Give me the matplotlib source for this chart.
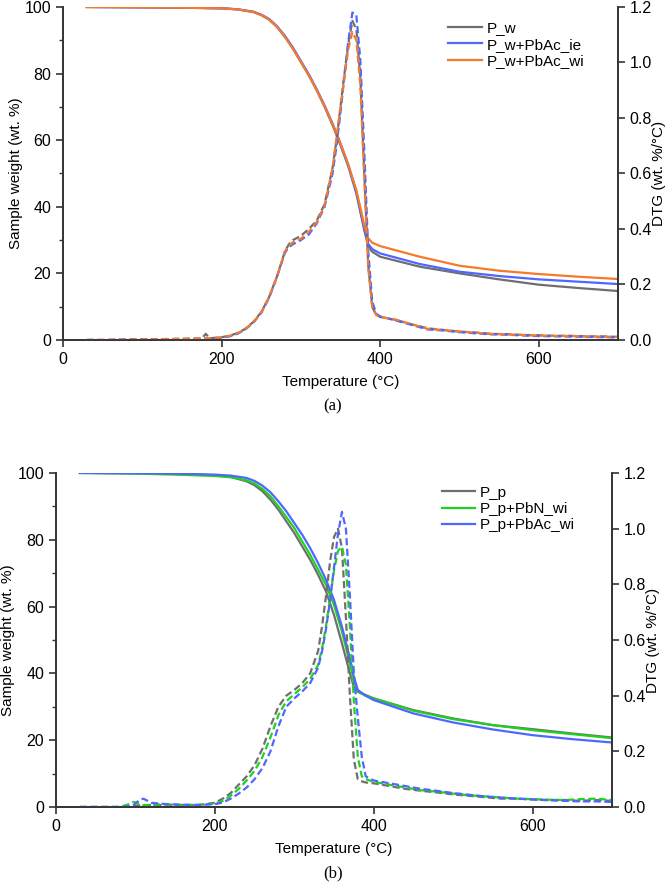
import numpy as np
import matplotlib
matplotlib.use('Agg')
import matplotlib.pyplot as plt
from matplotlib.ticker import MultipleLocator

plt.rcParams['font.family'] = ['Liberation Sans', 'DejaVu Sans']
plt.rcParams['font.size'] = 11

# ---- panel (a) data ----
t_tga_a = [30, 100, 150, 200, 220, 240, 250, 260, 270, 280, 290, 300, 310, 320, 330,
           340, 350, 360, 370, 380, 385, 390, 400, 450, 500, 550, 600, 650, 700]
tga_pw = [100, 99.9, 99.8, 99.6, 99.3, 98.5, 97.6, 96.2, 94, 91, 87.5, 83.5, 79.5, 75, 70,
          64.5, 58.5, 52, 44, 33, 28.2, 26.5, 25, 22, 20, 18.2, 16.6, 15.6, 14.7]
tga_pw_ie = [100, 99.9, 99.8, 99.6, 99.3, 98.6, 97.7, 96.4, 94.2, 91.3, 87.8, 83.8, 79.8, 75.3, 70.4,
             65, 59, 52.5, 44.5, 33.5, 28.8, 27.3, 26, 22.8, 20.5, 19.2, 18.2, 17.5, 16.8]
tga_pw_wi = [100, 99.9, 99.8, 99.6, 99.3, 98.5, 97.6, 96.2, 94, 91, 87.5, 83.5, 79.5, 75, 70.2,
             64.8, 59, 52.5, 45, 34.5, 30.5, 29.2, 28.2, 25, 22.3, 20.8, 19.8, 19, 18.3]

t_dtg_a = [30, 50, 100, 150, 175, 180, 185, 200, 210, 220, 230, 240, 250, 260, 270, 280, 285,
           290, 300, 310, 320, 330, 340, 345, 350, 355, 360, 365, 370, 375, 380, 385, 390, 395,
           400, 420, 440, 460, 480, 500, 520, 540, 560, 580, 600, 620, 640, 660, 680, 700]
dtg_pw = [0, 0, 0.002, 0.004, 0.005, 0.022, 0.006, 0.01, 0.015, 0.025, 0.04, 0.065, 0.1, 0.155,
          0.23, 0.32, 0.345, 0.36, 0.375, 0.40, 0.43, 0.49, 0.62, 0.72, 0.84, 0.96, 1.07, 1.15,
          1.12, 0.95, 0.60, 0.27, 0.12, 0.09, 0.083, 0.072, 0.056, 0.042, 0.036, 0.03, 0.027,
          0.022, 0.021, 0.018, 0.017, 0.015, 0.015, 0.013, 0.013, 0.011]
dtg_pw_ie = [0, 0, 0.002, 0.003, 0.004, 0.005, 0.005, 0.008, 0.013, 0.022, 0.038, 0.062, 0.097,
             0.152, 0.228, 0.315, 0.335, 0.345, 0.36, 0.38, 0.42, 0.48, 0.60, 0.70, 0.82, 0.95,
             1.08, 1.18, 1.17, 1.01, 0.68, 0.32, 0.14, 0.095, 0.085, 0.07, 0.054, 0.038, 0.034,
             0.028, 0.024, 0.02, 0.019, 0.016, 0.014, 0.013, 0.012, 0.011, 0.01, 0.009]
dtg_pw_wi = [0, 0, 0.002, 0.004, 0.005, 0.006, 0.006, 0.01, 0.015, 0.024, 0.04, 0.064, 0.1, 0.155,
             0.23, 0.32, 0.34, 0.352, 0.365, 0.39, 0.425, 0.485, 0.62, 0.73, 0.84, 0.95, 1.05,
             1.11, 1.08, 0.92, 0.58, 0.26, 0.12, 0.09, 0.083, 0.073, 0.057, 0.04, 0.036, 0.031,
             0.026, 0.022, 0.02, 0.018, 0.016, 0.015, 0.014, 0.013, 0.012, 0.011]

# ---- panel (b) data ----
t_tga_b = [30, 100, 150, 200, 220, 240, 250, 260, 270, 280, 290, 300, 310, 320, 330, 340, 350,
           360, 370, 375, 380, 390, 400, 450, 500, 550, 600, 650, 700]
tga_pp = [100, 99.9, 99.7, 99.3, 98.8, 97.5, 96.3, 94.5, 92, 89, 85.5, 82, 78, 74, 69.5, 64.5,
          57.5, 49, 40, 36, 34.5, 33.5, 32.5, 29, 26.5, 24.5, 23.3, 22, 20.8]
tga_pp_n = [100, 99.8, 99.5, 99.1, 98.7, 97.8, 96.8, 95.2, 93, 90, 86.8, 83.5, 79.5, 75.5, 71,
            66.5, 60.5, 52.5, 43, 38, 34.5, 33.3, 32.5, 28.8, 26.3, 24.5, 23, 21.8, 20.6]
tga_pp_ac = [100, 99.9, 99.8, 99.5, 99.2, 98.5, 97.6, 96.2, 94.2, 91.5, 88.5, 85, 81.5, 77.5, 73,
             68, 62, 54, 44.5, 39, 35, 33.3, 32, 28, 25.3, 23.2, 21.5, 20.3, 19.3]

t_dtg_b = [30, 50, 80, 90, 97, 105, 110, 120, 140, 160, 180, 200, 210, 220, 230, 240, 250, 260,
           270, 280, 290, 300, 310, 320, 330, 335, 340, 345, 350, 355, 360, 365, 370, 375, 380,
           385, 390, 400, 420, 440, 460, 480, 500, 520, 540, 560, 580, 600, 620, 640, 660, 680, 700]
dtg_pp = [0, 0, 0, 0.002, 0.004, 0.006, 0.006, 0.007, 0.008, 0.007, 0.007, 0.015, 0.03, 0.05,
          0.08, 0.11, 0.15, 0.21, 0.29, 0.36, 0.40, 0.42, 0.445, 0.48, 0.56, 0.65, 0.76, 0.88,
          0.97, 1.0, 0.93, 0.68, 0.40, 0.17, 0.10, 0.092, 0.088, 0.085, 0.075, 0.065, 0.058,
          0.052, 0.045, 0.04, 0.035, 0.03, 0.03, 0.027, 0.025, 0.025, 0.022, 0.025, 0.022]
dtg_pp_n = [0, 0, 0, 0.008, 0.018, 0.012, 0.006, 0.008, 0.009, 0.007, 0.008, 0.012, 0.022, 0.04,
            0.065, 0.095, 0.13, 0.18, 0.25, 0.33, 0.38, 0.405, 0.43, 0.46, 0.51, 0.57, 0.65, 0.75,
            0.85, 0.92, 0.935, 0.87, 0.65, 0.38, 0.18, 0.11, 0.10, 0.09, 0.08, 0.07, 0.06, 0.055,
            0.048, 0.042, 0.038, 0.034, 0.03, 0.028, 0.026, 0.025, 0.028, 0.03, 0.025]
dtg_pp_ac = [0, 0, 0, 0.002, 0.005, 0.025, 0.03, 0.015, 0.01, 0.008, 0.007, 0.01, 0.016, 0.03,
             0.048, 0.07, 0.10, 0.14, 0.20, 0.29, 0.36, 0.39, 0.415, 0.445, 0.50, 0.56, 0.64, 0.74,
             0.86, 0.98, 1.06, 1.0, 0.76, 0.48, 0.32, 0.18, 0.11, 0.095, 0.085, 0.075, 0.065,
             0.058, 0.05, 0.044, 0.038, 0.034, 0.03, 0.027, 0.024, 0.022, 0.02, 0.02, 0.018]

GRAY = '#6f6f6f'
BLUE = '#4f66ff'
ORANGE = '#f47a2c'
GREEN = '#1ed21e'


def draw_panel(rect, t_tga, tgas, t_dtg, dtgs, colors, names, letter, leg_anchor, lpad):
    ax = fig.add_axes(rect)
    ax2 = ax.twinx()
    for y, c, n in zip(tgas, colors, names):
        ax.plot(t_tga, y, color=c, lw=1.6, label=n)
    for y, c in zip(dtgs, colors):
        ax2.plot(t_dtg, y, color=c, lw=1.6, ls=(0, (3.2, 1.6)))
    ax.set_xlim(0, 700)
    ax.set_ylim(0, 100)
    ax2.set_ylim(0, 1.2)
    ax.xaxis.set_major_locator(MultipleLocator(200))
    ax.yaxis.set_major_locator(MultipleLocator(20))
    ax.yaxis.set_minor_locator(MultipleLocator(10))
    ax2.yaxis.set_major_locator(MultipleLocator(0.2))
    ax2.yaxis.set_major_formatter(matplotlib.ticker.FormatStrFormatter('%.1f'))
    for a in (ax, ax2):
        a.spines['top'].set_visible(False)
        for s in a.spines.values():
            s.set_linewidth(1.2)
            s.set_color('#333333')
        a.tick_params(which='major', direction='out', length=5, width=1.2,
                      labelsize=11.5, color='#333333')
        a.tick_params(which='minor', direction='out', length=3, width=1.0, color='#333333')
    ax.set_xlabel('Temperature (°C)', fontsize=11, labelpad=6)
    ax.set_ylabel('Sample weight (wt. %)', fontsize=11, labelpad=lpad)
    ax2.set_ylabel('DTG (wt. %/°C)', fontsize=11, labelpad=0)
    ax.legend(loc='upper left', bbox_to_anchor=leg_anchor, frameon=False, fontsize=11,
              handlelength=2.2, handletextpad=0.3, labelspacing=0.15, borderaxespad=0)
    fig.text(0.5, rect[1] - 0.075, letter, ha='center', va='center', fontsize=12,
             family=['Liberation Serif', 'DejaVu Serif'])
    return ax


fig = plt.figure(figsize=(6.66, 8.86), dpi=100)

draw_panel([0.0946, 0.6163, 0.8333, 0.3758], t_tga_a, [tga_pw, tga_pw_ie, tga_pw_wi],
           t_dtg_a, [dtg_pw, dtg_pw_ie, dtg_pw_wi], [GRAY, BLUE, ORANGE],
           ['P_w', 'P_w+PbAc_ie', 'P_w+PbAc_wi'], '(a)', (0.683, 0.975), 1)
draw_panel([0.0841, 0.0892, 0.8348, 0.3770], t_tga_b, [tga_pp, tga_pp_n, tga_pp_ac],
           t_dtg_b, [dtg_pp, dtg_pp_n, dtg_pp_ac], [GRAY, GREEN, BLUE],
           ['P_p', 'P_p+PbN_wi', 'P_p+PbAc_wi'], '(b)', (0.683, 0.98), 2)

fig.savefig('out.png', dpi=100)
